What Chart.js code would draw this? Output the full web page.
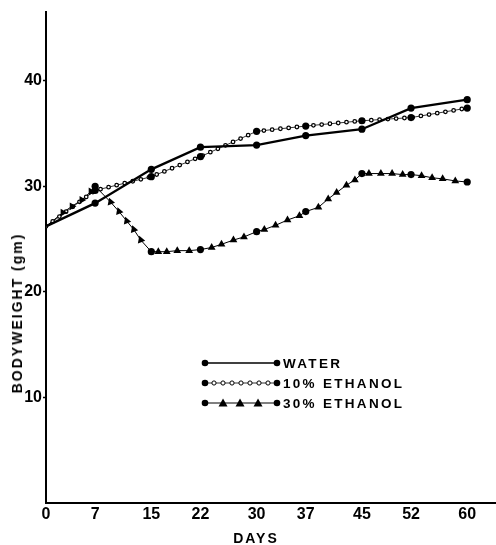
<!DOCTYPE html>
<html>
<head>
<meta charset="utf-8">
<script src="https://cdn.jsdelivr.net/npm/chart.js@4/dist/chart.umd.min.js"></script>
<style>
    html, body { margin: 0; padding: 0; background: #fff; }
    #wrap { position: relative; width: 496px; height: 545px; overflow: hidden; }
    #chartCanvas { position: absolute; left: 0; top: 0; }
    .axis-title {
        position: absolute;
        font: bold 14px "Liberation Sans", Arial, sans-serif;
        letter-spacing: 2px;
        white-space: nowrap;
        color: #000;
    }
    .y-title { left: 17px; top: 313px; transform: translate(-50%, -50%) rotate(-90deg); }
    .x-title { left: 256px; top: 538px; transform: translate(-50%, -50%); }
    .legend-row {
        position: absolute;
        left: 200px;
        height: 14px;
        display: flex;
        align-items: center;
    }
    .legend-row svg { display: block; }
    .legend-row span {
        margin-left: 1px;
        font: bold 13.5px "Liberation Sans", Arial, sans-serif;
        letter-spacing: 2.3px;
        color: #000;
    }
</style>
</head>
<body>
<div id="wrap">
    <canvas id="chartCanvas" width="496" height="545"></canvas>
    <div class="axis-title y-title">BODYWEIGHT (gm)</div>
    <div class="axis-title x-title">DAYS</div>

    <div class="legend-row" style="top:356px;">
        <svg width="82" height="14">
            <line x1="5" y1="7" x2="77" y2="7" stroke="#000" stroke-width="1.6"/>
            <circle cx="5" cy="7" r="3.3" fill="#000"/>
            <circle cx="77" cy="7" r="3.3" fill="#000"/>
        </svg>
        <span>WATER</span>
    </div>
    <div class="legend-row" style="top:376px;">
        <svg width="82" height="14">
            <line x1="5" y1="7" x2="77" y2="7" stroke="#000" stroke-width="0.8"/>
            <circle cx="14" cy="7" r="2.1" fill="#fff" stroke="#000" stroke-width="1"/>
            <circle cx="23" cy="7" r="2.1" fill="#fff" stroke="#000" stroke-width="1"/>
            <circle cx="32" cy="7" r="2.1" fill="#fff" stroke="#000" stroke-width="1"/>
            <circle cx="41" cy="7" r="2.1" fill="#fff" stroke="#000" stroke-width="1"/>
            <circle cx="50" cy="7" r="2.1" fill="#fff" stroke="#000" stroke-width="1"/>
            <circle cx="59" cy="7" r="2.1" fill="#fff" stroke="#000" stroke-width="1"/>
            <circle cx="68" cy="7" r="2.1" fill="#fff" stroke="#000" stroke-width="1"/>
            <circle cx="5" cy="7" r="3.3" fill="#000"/>
            <circle cx="77" cy="7" r="3.3" fill="#000"/>
        </svg>
        <span>10% ETHANOL</span>
    </div>
    <div class="legend-row" style="top:396px;">
        <svg width="82" height="14">
            <line x1="5" y1="7" x2="77" y2="7" stroke="#000" stroke-width="1"/>
            <polygon points="23,2.5 27.5,10.5 18.5,10.5" fill="#000"/>
            <polygon points="40,2.5 44.5,10.5 35.5,10.5" fill="#000"/>
            <polygon points="58,2.5 62.5,10.5 53.5,10.5" fill="#000"/>
            <circle cx="5" cy="7" r="3.3" fill="#000"/>
            <circle cx="77" cy="7" r="3.3" fill="#000"/>
        </svg>
        <span>30% ETHANOL</span>
    </div>
</div>

<script>
// measurement days (filled circles)
const days = [0, 7, 15, 22, 30, 37, 45, 52, 60];
const waterValues = [26.2, 28.4, 31.6, 33.7, 33.9, 34.8, 35.4, 37.4, 38.2];
const ethanol10Values = [26.2, 29.6, 30.9, 32.8, 35.2, 35.7, 36.2, 36.5, 37.4];
const ethanol30Values = [26.2, 30.0, 23.8, 24.0, 25.7, 27.6, 31.2, 31.1, 30.4];

// 30% ethanol intermediate readings (triangles)
const ethanol30TriangleDays = [2.4, 3.7, 5.1, 6.4, 9.2, 10.4, 11.5, 12.5, 13.5,
    16.0, 17.2, 18.7, 20.4, 23.6, 25.0, 26.7, 28.2, 31.1, 32.7, 34.4, 36.1,
    38.8, 40.2, 41.4, 42.8, 44.0, 46.0, 47.7, 49.3, 50.8, 53.5, 55.0, 56.5, 58.3];
const ethanol30TriangleValues = [27.5, 28.1, 28.7, 29.5, 28.5, 27.6, 26.7, 25.9, 24.9,
    23.8, 23.8, 23.9, 23.9, 24.2, 24.5, 24.9, 25.2, 25.9, 26.3, 26.8, 27.2,
    28.0, 28.8, 29.4, 30.1, 30.6, 31.2, 31.2, 31.2, 31.1, 31.0, 30.8, 30.7, 30.5];

const dayTicks = [0, 7, 15, 22, 30, 37, 45, 52, 60];
const weightTicks = [10, 20, 30, 40];

function toPoints(xs, ys) {
    return xs.map((x, i) => ({ x: x, y: ys[i] }));
}

const waterData = toPoints(days, waterValues);
const ethanol10Data = toPoints(days, ethanol10Values);
const ethanol30Data = toPoints(days, ethanol30Values);
const ethanol30Triangles = toPoints(ethanol30TriangleDays, ethanol30TriangleValues);
const ethanol30Path = ethanol30Data.concat(ethanol30Triangles).sort((a, b) => a.x - b.x);

const tickFont = { family: '"Liberation Sans", Arial, sans-serif', size: 16, weight: 'bold' };

// no dot on the shared starting point at day 0
const dotRadius = (ctx) => (ctx.dataIndex === 0 ? 0 : 3.6);

function markers(data, extra) {
    return Object.assign({
        data: data,
        showLine: false,
        pointRadius: dotRadius,
        pointBackgroundColor: '#000',
        pointBorderColor: '#000',
        pointBorderWidth: 0,
        borderColor: '#000'
    }, extra || {});
}

function path(data, width, color, dash) {
    return {
        data: data,
        borderColor: color,
        borderWidth: width,
        borderDash: dash || [],
        borderCapStyle: dash ? 'round' : 'butt',
        pointRadius: 0,
        tension: 0,
        fill: false
    };
}

// first dataset is painted on top
const datasets = [
    {
        label: 'WATER',
        data: waterData,
        borderColor: '#000',
        borderWidth: 2.3,
        pointRadius: dotRadius,
        pointBackgroundColor: '#000',
        pointBorderWidth: 0,
        tension: 0,
        fill: false
    },
    markers(ethanol10Data, { label: '10% ETHANOL' }),
    markers(ethanol30Data, { label: '30% ETHANOL' }),
    markers(ethanol30Triangles, {
        label: '30% ETHANOL readings',
        pointStyle: 'triangle',
        pointRadius: 4.5,
        pointRotation: (ctx) => {
            const d = ethanol30TriangleDays[ctx.dataIndex];
            if (d < 7) return -30;
            if (d < 15) return 220;
            return 0;
        }
    }),
    path(ethanol10Data, 2.3, '#fff', [0, 8.3]),
    path(ethanol10Data, 4.8, '#000', [0, 8.3]),
    path(ethanol10Data, 0.8, '#000'),
    path(ethanol30Path, 1, '#000')
];

new Chart(document.getElementById('chartCanvas').getContext('2d'), {
    type: 'line',
    data: { datasets: datasets },
    options: {
        responsive: false,
        animation: false,
        layout: { autoPadding: false, padding: { top: 12, left: 0, right: 0, bottom: 0 } },
        plugins: {
            legend: { display: false },
            tooltip: { enabled: false }
        },
        scales: {
            x: {
                type: 'linear',
                min: 0,
                max: 64.1,
                afterBuildTicks: (scale) => { scale.ticks = dayTicks.map(v => ({ value: v })); },
                afterFit: (scale) => { scale.height = 42; },
                ticks: { color: '#000', font: tickFont, padding: 2, maxRotation: 0, autoSkip: false },
                grid: { drawOnChartArea: false, drawTicks: false },
                border: { display: true, color: '#000', width: 2 }
            },
            y: {
                type: 'linear',
                min: 0,
                max: 46.5,
                afterBuildTicks: (scale) => { scale.ticks = weightTicks.map(v => ({ value: v })); },
                afterFit: (scale) => { scale.width = 46; },
                ticks: { color: '#000', font: tickFont, padding: 1 },
                grid: { drawOnChartArea: false, drawTicks: true, tickLength: 3, tickColor: '#000', tickWidth: 1.5 },
                border: { display: true, color: '#000', width: 2 }
            }
        }
    }
});
</script>
</body>
</html>
